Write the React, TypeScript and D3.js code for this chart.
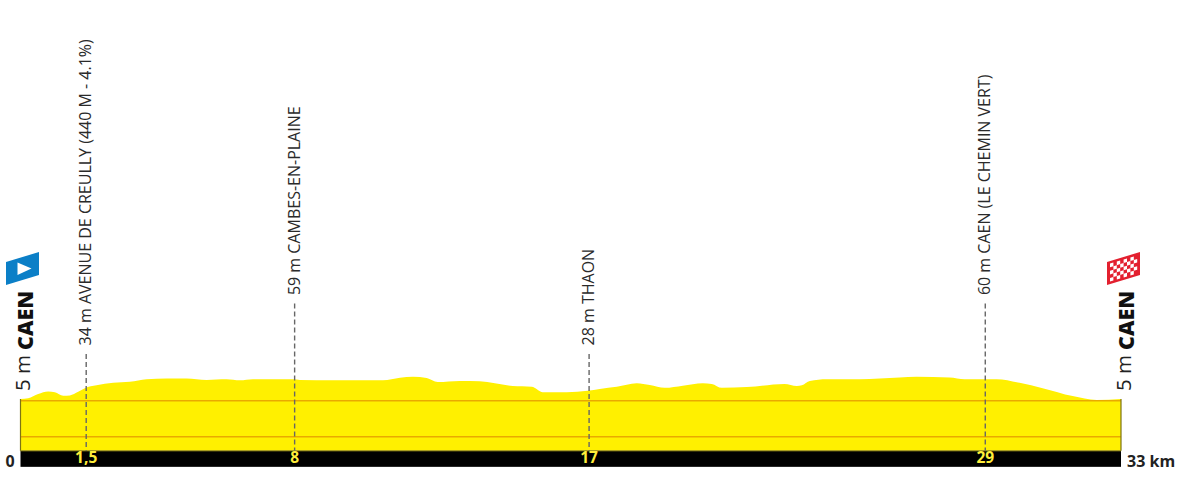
import React from "react";
import * as d3 from "d3";

const profileKm = [0,0.23,0.53,0.83,1.03,1.28,1.48,1.73,1.93,2.28,2.78,3.28,3.78,4.38,4.98,5.58,6.18,6.58,6.97,8.18,8.38,9.37,10.87,11.38,11.77,12.18,12.51,13.17,13.77,14.76,15.33,15.66,16.38,17.01,17.37,17.88,18.48,18.87,19.32,19.86,20.46,20.73,21.03,21.78,22.91,23.28,23.43,23.67,24.18,25.17,26.36,26.87,27.86,28.31,29.27,29.96,30.65,31.55,32.27,33];
const profileM = [5,7,19,26,24,14,15,25,35,43,50,53,60,62,62,58,60,57,60,60,58,57,57,64,67,63,52,55,54,41,39,24,24,28,33,39,49,44,36,42,49,47,36,38,47,41,43,55,60,60,65,67,65,60,60,50,35,13,2,5];
const gridM = [0, -100];
const baseM = -139;

const markerKm = [1.97, 8.22, 17.05, 28.93];
const markerTicks = ["1,5", "8", "17", "29"];
const markerLabels = [
  "34 m AVENUE DE CREULLY (440 M - 4.1%)",
  "59 m CAMBES-EN-PLAINE",
  "28 m THAON",
  "60 m CAEN (LE CHEMIN VERT)",
];
const markerTopM = [130, 270, 130, 270];

const startKm = 0;
const endKm = 33;
const placeName = "CAEN";
const placeAlt = "5 m";
const startLabel = "0";
const endLabel = "33 km";

const W = 1200, H = 477;
const font = "'Open Sans', sans-serif";
const x = d3.scaleLinear().domain([startKm, endKm]).range([20.5, 1121]);
const y = d3.scaleLinear().domain([0, 100]).range([400.8, 364.8]);
const barH = 16;

const area = d3.area<number>()
  .x((_, i) => x(profileKm[i]))
  .y0(y(baseM))
  .y1((d) => y(d))
  .curve(d3.curveMonotoneX);

const flagRows = d3.range(5);
const flagCols = d3.range(8);

function Place({ px }: { px: number }) {
  return (
    <g>
      <text transform={`translate(${px + 13.5},391) rotate(-90)`} fontFamily={font} fontSize={20.5} fill="#222">{placeAlt}</text>
      <text transform={`translate(${px + 16.5},350) rotate(-90)`} fontFamily={font} fontSize={21.5} fontWeight={800} fill="#111">{placeName}</text>
    </g>
  );
}

export default function App() {
  const base = y(baseM);
  return (
    <svg width={W} height={H} viewBox={`0 0 ${W} ${H}`} style={{ position: "absolute", left: 0, top: 0, background: "#fff" }}>
      <path d={area(profileM) ?? ""} fill="#fff000" />
      {gridM.map((g) => (
        <line key={g} x1={x(startKm)} x2={x(endKm)} y1={y(g)} y2={y(g)} stroke="#e9a900" strokeWidth={1.6} />
      ))}
      <line x1={x(startKm)} x2={x(startKm)} y1={y(5)} y2={base} stroke="#7d7414" strokeWidth={1.2} />
      <line x1={x(endKm)} x2={x(endKm)} y1={y(5)} y2={base} stroke="#7d7414" strokeWidth={1.2} />
      <rect x={x(startKm)} y={base} width={x(endKm) - x(startKm)} height={barH} fill="#000" />
      <line x1={x(startKm)} x2={x(endKm)} y1={base} y2={base} stroke="#8f8517" strokeWidth={1} />

      {markerKm.map((k, i) => (
        <g key={k}>
          <line x1={x(k)} x2={x(k)} y1={y(markerTopM[i])} y2={base} stroke="#666" strokeWidth={1.4} strokeDasharray="5 3" />
          <text transform={`translate(${x(k) + 5},${y(markerTopM[i]) - 8.5}) rotate(-90)`} fontFamily={font} fontSize={16} fill="#2a2a2a">{markerLabels[i]}</text>
          <text x={x(k)} y={base + 12.5} textAnchor="middle" fontFamily={font} fontSize={15.5} fontWeight={700} fill="#ffee3a">{markerTicks[i]}</text>
        </g>
      ))}

      <Place px={x(startKm) - 4} />
      <Place px={x(endKm) - 4} />

      <text x={10} y={467} textAnchor="middle" fontFamily={font} fontSize={16} fontWeight={700} fill="#222">{startLabel}</text>
      <text x={1127} y={467} fontFamily={font} fontSize={16} fontWeight={700} fill="#222">{endLabel}</text>

      <polygon points="6,262 39,252 39,275 6,285" fill="#0b7fc7" />
      <polygon points="17.5,262.5 31.5,268.5 17.5,275" fill="#fff" />

      <polygon points="1107,262 1140,252 1140,275 1107,285" fill="#e3202f" />
      <g transform="matrix(1,-0.303,0,1,1107,262)">
        {flagRows.flatMap((r) => flagCols.filter((c) => (r + c) % 2 === 0).map((c) => (
          <rect key={`${r}-${c}`} x={3 + c * 3.4} y={2.5 + r * 3.6} width={3.4} height={3.6} fill="#fff" />
        )))}
      </g>
    </svg>
  );
}
